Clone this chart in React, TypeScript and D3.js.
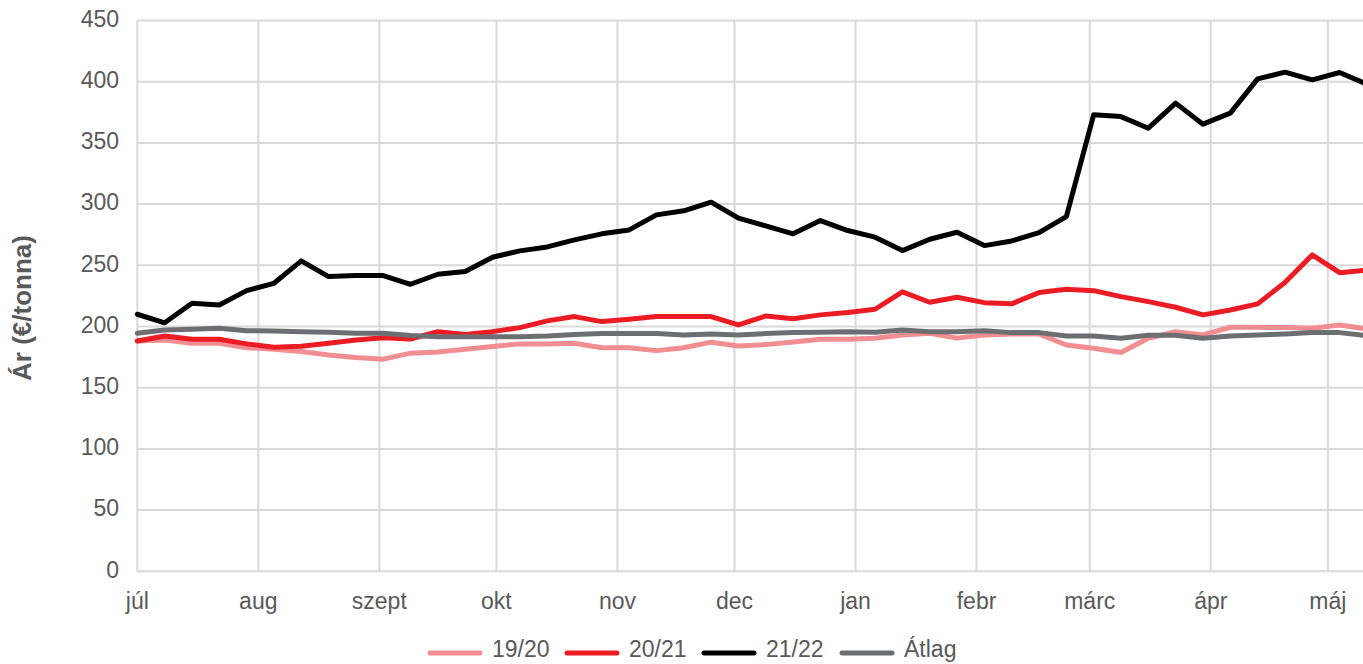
import React from "react";
import * as d3 from "d3";

const monthLabels = ["júl", "aug", "szept", "okt", "nov", "dec", "jan", "febr", "márc", "ápr", "máj"];
const yTicks = [0, 50, 100, 150, 200, 250, 300, 350, 400, 450];

const s1920 = [188.2, 189, 186.3, 186.3, 182.7, 181.4, 179.5, 176.8, 174.6, 173.3, 178.2, 179.2, 181.4, 183.6, 185.8, 185.8, 186.3, 182.7, 182.7, 180.3, 182.7, 187.2, 184.1, 185.2, 187.4, 189.6, 189.6, 190.4, 193.1, 194.5, 190.5, 193.1, 193.9, 193.9, 184.9, 182.2, 178.7, 190.4, 195.8, 193.1, 199.4, 199.4, 199.1, 198.6, 201.3, 198];
const s2021 = [188.2, 192.3, 189.6, 189.6, 185.8, 183, 183.9, 186.3, 189, 190.9, 189.8, 195.8, 193.4, 195.8, 199.1, 204.6, 208.1, 204, 205.9, 208.1, 208.1, 208.1, 201.3, 208.6, 206.4, 209.5, 211.4, 214.1, 228.3, 219.8, 223.9, 219.5, 218.5, 227.7, 230.4, 229.3, 224.4, 220.3, 215.7, 209.5, 213.5, 218.5, 235.9, 258.5, 244, 246];
const s2122 = [210, 203, 219, 217.6, 229.3, 235.3, 253.6, 240.8, 241.6, 241.6, 234.5, 242.7, 244.9, 256.6, 261.8, 265, 270.8, 275.7, 278.9, 291.2, 294.5, 301.6, 288.5, 282.2, 275.7, 286.5, 278.4, 273, 262, 271.3, 277, 266.1, 269.9, 276.7, 289.8, 372.9, 371.5, 362, 382.5, 365.3, 374.3, 402.3, 407.8, 401.5, 407.5, 398];
const atlag = [194.5, 197.2, 197.8, 198.6, 196.6, 196.4, 195.8, 195.3, 194.5, 194.5, 192.6, 191.7, 191.7, 191.7, 191.7, 192.3, 193.4, 194.2, 194.2, 194.2, 193.1, 193.9, 193.1, 194.2, 195, 195.3, 195.8, 195.3, 197.2, 195.8, 195.8, 196.6, 195, 195, 192.3, 192.3, 190.4, 192.9, 192.9, 190.4, 192.3, 193.1, 193.9, 195, 195, 192.5];

const seriesNames = ["19/20", "20/21", "21/22", "Átlag"];
const seriesColors = ["#F28D91", "#ED1C24", "#000000", "#6D6E71"];
const seriesValues = [s1920, s2021, s2122, atlag];

const W = 1363;
const H = 664;
const M = { left: 137.3, right: 1363, top: 20.5, bottom: 571.3 };
const FONT = "'Liberation Sans', Arial, sans-serif";
const TEXT = "#595959";

const start = new Date(Date.UTC(2019, 6, 1));
const end = new Date(Date.UTC(2020, 4, 10));

export default function App() {
  const x = d3.scaleUtc().domain([start, end]).range([M.left, M.right]);
  const y = d3.scaleLinear().domain([0, 450]).range([M.bottom, M.top]);
  const monthTicks = d3.utcMonth.range(start, end);
  const dates = s2122.map((_, i) => d3.utcDay.offset(start, 7 * i));
  const line = d3
    .line<number>()
    .x((_, i) => x(dates[i]))
    .y((v) => y(v));

  const legendX = [428, 565, 702, 840];

  return (
    <div style={{ position: "absolute", left: 0, top: 0 }}>
      <svg width={W} height={H} style={{ display: "block", background: "#fff" }}>
        <defs>
          <clipPath id="plotclip">
            <rect x={M.left - 10} y={0} width={M.right - M.left + 10} height={H} />
          </clipPath>
        </defs>
        {yTicks.map((t) => (
          <line key={"h" + t} x1={M.left} x2={M.right} y1={y(t)} y2={y(t)} stroke="#D9D9D9" strokeWidth={2} />
        ))}
        {monthTicks.map((d, i) => (
          <line key={"v" + i} x1={x(d)} x2={x(d)} y1={M.top} y2={M.bottom} stroke="#D9D9D9" strokeWidth={2} />
        ))}
        {yTicks.map((t) => (
          <text key={"yt" + t} x={119} y={y(t)} dy="0.27em" textAnchor="end" fontFamily={FONT} fontSize={23} fill={TEXT}>
            {t}
          </text>
        ))}
        {monthTicks.map((d, i) => (
          <text key={"xt" + i} x={x(d)} y={609} textAnchor="middle" fontFamily={FONT} fontSize={23} fill={TEXT}>
            {monthLabels[i]}
          </text>
        ))}
        <text
          transform="translate(30.5, 308) rotate(-90)"
          textAnchor="middle"
          fontFamily={FONT}
          fontSize={26}
          fontWeight="bold"
          fill={TEXT}
        >
          Ár (€/tonna)
        </text>
        <g clipPath="url(#plotclip)">
          {seriesValues.map((vals, k) => (
            <path
              key={"s" + k}
              d={line(vals) || ""}
              fill="none"
              stroke={seriesColors[k]}
              strokeWidth={5}
              strokeLinejoin="round"
              strokeLinecap="round"
            />
          ))}
        </g>
        {seriesNames.map((n, k) => (
          <g key={"lg" + k}>
            <line x1={legendX[k] + 2} x2={legendX[k] + 52} y1={653} y2={653} stroke={seriesColors[k]} strokeWidth={5} strokeLinecap="round" />
            <text x={legendX[k] + 64} y={657} fontFamily={FONT} fontSize={23} fill={TEXT}>
              {n}
            </text>
          </g>
        ))}
      </svg>
    </div>
  );
}
